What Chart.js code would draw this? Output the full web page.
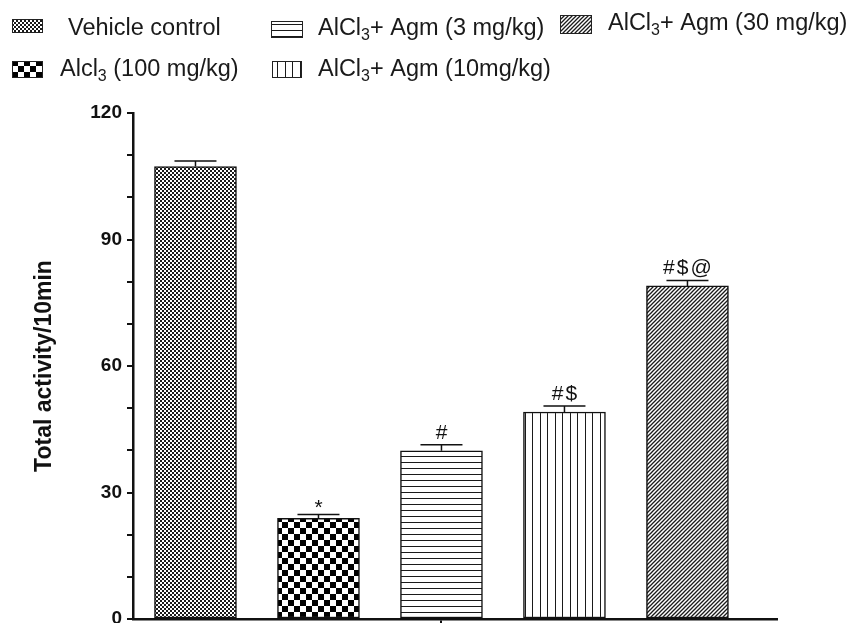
<!DOCTYPE html>
<html>
<head>
<meta charset="utf-8">
<script src="https://cdn.jsdelivr.net/npm/chart.js@4.4.0/dist/chart.umd.min.js"></script>
<style>
  body { margin: 0; background: #fff; }
  canvas { display: block; }
</style>
</head>
<body>
<canvas id="activityChart" width="847" height="623"></canvas>
<script>
// data
const groups = ['Vehicle control', 'Alcl3 (100 mg/kg)', 'AlCl3+ Agm (3 mg/kg)', 'AlCl3+ Agm (10mg/kg)', 'AlCl3+ Agm (30 mg/kg)'];
const means = [107.3, 23.9, 39.9, 49.1, 79.0];
const sems = [1.3, 0.9, 1.4, 1.4, 1.3];
const marks = ['', '*', '#', '#$', '#$@'];
const yLabels = [0, 30, 60, 90, 120];

const FONT = "'Liberation Sans', Arial, sans-serif";
const canvas = document.getElementById('activityChart');
const ctx = canvas.getContext('2d');

// fill patterns, one per group
function makePattern(kind) {
    const t = document.createElement('canvas');
    const g = t.getContext('2d');
    const sizes = { fine: [4, 4], checker: [12, 12], hlines: [6, 6], vlines: [15, 4], diag: [4, 4] };
    t.width = sizes[kind][0];
    t.height = sizes[kind][1];
    g.fillStyle = '#fff';
    g.fillRect(0, 0, t.width, t.height);
    g.fillStyle = '#1a1a1a';
    if (kind === 'fine') {
        g.fillRect(0, 0, 2, 2);
        g.fillRect(2, 2, 2, 2);
    } else if (kind === 'checker') {
        g.fillStyle = '#000';
        g.fillRect(0, 0, 6, 6);
        g.fillRect(6, 6, 6, 6);
    } else if (kind === 'hlines') {
        g.fillRect(0, 0, 6, 1);
    } else if (kind === 'vlines') {
        g.fillRect(0, 0, 1, 4);
        g.fillRect(7, 0, 1, 4);
    } else if (kind === 'diag') {
        g.strokeStyle = '#1a1a1a';
        g.lineWidth = 1.3;
        g.beginPath();
        g.moveTo(0, 4); g.lineTo(4, 0);
        g.moveTo(-1, 1); g.lineTo(1, -1);
        g.moveTo(3, 5); g.lineTo(5, 3);
        g.stroke();
    }
    return ctx.createPattern(t, 'repeat');
}
const fills = ['fine', 'checker', 'hlines', 'vlines', 'diag'].map(makePattern);

// draws "AlCl3..." with the 3 as a subscript
function drawLabel(c, text, x, y, size) {
    const m = text.match(/^(Al[cC]l)3(.*)$/);
    c.font = size + 'px ' + FONT;
    c.textBaseline = 'alphabetic';
    c.textAlign = 'left';
    if (!m) { c.fillText(text, x, y); return; }
    c.fillText(m[1], x, y);
    x += c.measureText(m[1]).width;
    c.font = Math.round(size * 0.68) + 'px ' + FONT;
    c.fillText('3', x, y + size * 0.22);
    x += c.measureText('3').width;
    c.font = size + 'px ' + FONT;
    c.fillText(m[2], x, y);
}

const whiteBg = {
    id: 'whiteBg',
    beforeDraw(chart) {
        chart.ctx.save();
        chart.ctx.fillStyle = '#fff';
        chart.ctx.fillRect(0, 0, chart.width, chart.height);
        chart.ctx.restore();
    }
};

const errorBars = {
    id: 'errorBars',
    afterDatasetsDraw(chart) {
        const { ctx: c, scales: { x, y } } = chart;
        c.save();
        c.strokeStyle = '#111';
        c.lineWidth = 1.5;
        means.forEach((m, i) => {
            const px = x.getPixelForValue(i);
            const top = y.getPixelForValue(m + sems[i]);
            c.beginPath();
            c.moveTo(px, y.getPixelForValue(m));
            c.lineTo(px, top);
            c.moveTo(px - 21, top);
            c.lineTo(px + 21, top);
            c.stroke();
            if (marks[i]) {
                c.fillStyle = '#111';
                c.font = '21px ' + FONT;
                c.letterSpacing = '2px';
                c.textAlign = 'center';
                c.textBaseline = 'alphabetic';
                c.fillText(marks[i], px + 1, marks[i] === '*' ? top : top - 6);
            }
        });
        c.restore();
    }
};

const boxLegend = {
    id: 'boxLegend',
    afterDraw(chart) {
        const c = chart.ctx;
        const spots = [
            { sx: 12, sy: 19, sw: 31, sh: 14, tx: 68, ty: 35 },
            { sx: 12, sy: 61, sw: 31, sh: 17, tx: 60, ty: 76 },
            { sx: 271, sy: 21, sw: 32, sh: 17, tx: 318, ty: 35 },
            { sx: 272, sy: 61, sw: 30, sh: 17, tx: 318, ty: 76 },
            { sx: 560, sy: 15, sw: 32, sh: 19, tx: 608, ty: 30 }
        ];
        c.save();
        groups.forEach((name, i) => {
            const s = spots[i];
            c.fillStyle = fills[i];
            c.fillRect(s.sx, s.sy, s.sw, s.sh);
            c.strokeStyle = '#222';
            c.lineWidth = 1;
            c.strokeRect(s.sx + 0.5, s.sy + 0.5, s.sw - 1, s.sh - 1);
            c.fillStyle = '#1a1a1a';
            drawLabel(c, name, s.tx, s.ty, 23.5);
        });
        c.restore();
    }
};

new Chart(ctx, {
    type: 'bar',
    data: {
        datasets: [{
            data: means.map((v, i) => ({ x: i, y: v })),
            backgroundColor: fills,
            borderColor: '#111',
            borderWidth: 1.5,
            borderSkipped: false,
            barThickness: 82
        }]
    },
    options: {
        responsive: false,
        animation: false,
        devicePixelRatio: 1,
        layout: { padding: { top: 113, left: 0, right: 70, bottom: 0 } },
        plugins: {
            legend: { display: false },
            tooltip: { enabled: false }
        },
        scales: {
            x: {
                type: 'linear',
                offset: false,
                min: -0.508,
                max: 4.728,
                afterBuildTicks: s => { s.ticks = [{ value: 2 }]; },
                afterFit: s => { s.height = 4; s.paddingLeft = 0; s.paddingRight = 0; },
                ticks: { display: false },
                grid: { offset: false, drawOnChartArea: false, color: '#111', lineWidth: 2, tickLength: 4 },
                border: { color: '#111', width: 2.5 }
            },
            y: {
                min: 0,
                max: 120,
                afterFit: s => { s.width = 133; s.paddingTop = 0; s.paddingBottom = 0; },
                ticks: {
                    stepSize: 10,
                    autoSkip: false,
                    padding: 5,
                    color: '#111',
                    font: { family: FONT, size: 19, weight: 'bold' },
                    callback: v => yLabels.includes(v) ? v : ''
                },
                grid: { drawOnChartArea: false, color: '#111', lineWidth: 2, tickLength: 6 },
                border: { color: '#111', width: 2.5 },
                title: {
                    display: true,
                    text: 'Total activity/10min',
                    color: '#111',
                    font: { family: FONT, size: 23, weight: 'bold', lineHeight: 1 },
                    padding: { top: 33, bottom: 0 }
                }
            }
        }
    },
    plugins: [whiteBg, errorBars, boxLegend]
});
</script>
</body>
</html>
